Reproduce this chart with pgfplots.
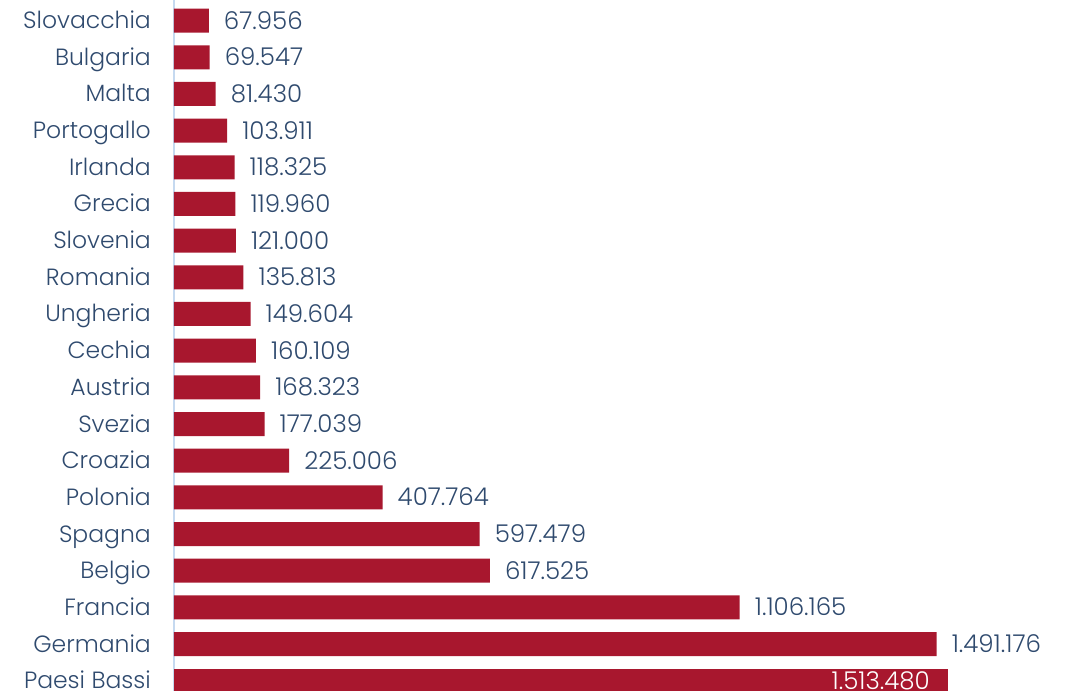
\documentclass[border=0pt]{standalone}
\usepackage{fontspec}
\IfFontExistsTF{Poppins Light}{\setmainfont{Poppins Light}}{\setmainfont{Poppins}}
\usepackage{pgfplots}
\pgfplotsset{compat=1.18}
\definecolor{barred}{RGB}{168,23,46}
\definecolor{txtblue}{RGB}{47,74,110}
\definecolor{lineblue}{RGB}{197,217,240}
\begin{document}
\begin{tikzpicture}
\path[use as bounding box] (0,0) rectangle (1074pt,691pt);
\begin{axis}[
  at={(174pt,0pt)}, anchor=south west,
  scale only axis, width=900pt, height=691pt,
  xbar, bar width=24pt, bar shift=0pt,
  xmin=0, xmax=1759860,
  ymin=-0.281, ymax=18.563,
  axis x line=none,
  axis y line=left,
  axis line style={draw=lineblue, line width=1.5pt, -},
  major tick length=0pt,
  ytick={0,...,18},
  yticklabels={Paesi Bassi,Germania,Francia,Belgio,Spagna,Polonia,Croazia,Svezia,Austria,Cechia,Ungheria,Romania,Slovenia,Grecia,Irlanda,Portogallo,Malta,Bulgaria,Slovacchia},
  yticklabel style={font=\fontsize{23.5}{27}\selectfont, text=txtblue, anchor=base east, inner sep=0pt, xshift=-23pt, yshift=-8pt},
  /pgf/number format/.cd, fixed, precision=0, 1000 sep={.}, assume math mode=true,
  /pgfplots/.cd,
  nodes near coords,
  every node near coord/.append style={font=\fontsize{24.5}{28}\selectfont, text=txtblue, anchor=base west, inner sep=0pt, xshift=15pt, yshift=-8.5pt},
  clip=false,
]
\addplot[fill=barred, draw=none] coordinates {
(1491176,1) (1106165,2) (617525,3) (597479,4) (407764,5) (225006,6)
(177039,7) (168323,8) (160109,9) (149604,10) (135813,11) (121000,12)
(119960,13) (118325,14) (103911,15) (81430,16) (69547,17) (67956,18)
};
\addplot[fill=barred, draw=none,
  every node near coord/.append style={text=white, anchor=base east, xshift=-33pt, yshift=-0.5pt}]
  coordinates {(1513480,0)};
\end{axis}
\end{tikzpicture}
\end{document}
